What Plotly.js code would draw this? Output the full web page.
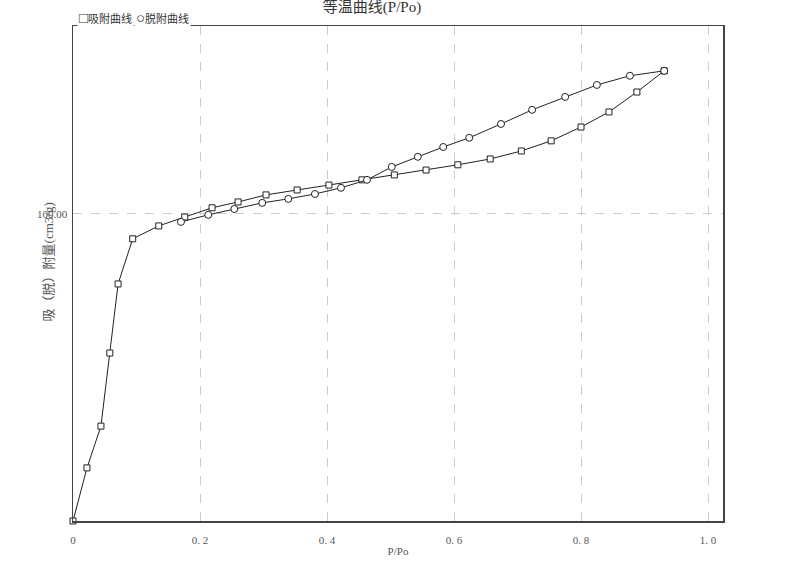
<!DOCTYPE html>
<html>
<head>
<meta charset="utf-8">
<script src="https://cdn.plot.ly/plotly-3.0.1.min.js"></script>
<style>
  body { margin: 0; background: #fff; }
  #chart { width: 800px; height: 575px; }
</style>
</head>
<body>
<div id="chart"></div>
<script>
// adsorption branch (squares)
var adsP = [0, 0.022, 0.044, 0.058, 0.071, 0.094, 0.135, 0.176, 0.219, 0.260, 0.304, 0.353,
            0.403, 0.455, 0.506, 0.556, 0.606, 0.657, 0.706, 0.753, 0.800, 0.844, 0.888, 0.931];
var adsQ = [0, 17.3, 30.9, 54.7, 77.2, 91.9, 96.1, 99.0, 102.0, 103.9, 106.2, 107.8,
            109.4, 111.1, 112.7, 114.3, 116.0, 117.9, 120.5, 123.8, 128.3, 133.2, 139.7, 146.6];

// desorption branch (circles)
var desP = [0.931, 0.877, 0.825, 0.775, 0.723, 0.674, 0.624, 0.583, 0.543, 0.502, 0.463,
            0.422, 0.381, 0.339, 0.298, 0.254, 0.213, 0.170];
var desQ = [146.6, 145.0, 142.0, 138.1, 133.9, 129.3, 124.8, 121.8, 118.6, 115.3, 111.1,
            108.5, 106.5, 104.9, 103.6, 101.6, 99.7, 97.4];

var xTicks = [0, 0.2, 0.4, 0.6, 0.8, 1.0];
var xTickText = ['0', '0. 2', '0. 4', '0. 6', '0. 8', '1. 0'];
var yTicks = [100];
var yTickText = ['100.00'];

var FONT = 'Liberation Serif, "Noto Sans CJK SC", serif';

var traces = [
  {
    x: adsP, y: adsQ, name: '吸附曲线', mode: 'lines+markers',
    line: {color: '#222', width: 1},
    marker: {symbol: 'square', size: 6, color: '#fff', line: {color: '#222', width: 1}},
    cliponaxis: false
  },
  {
    x: desP, y: desQ, name: '脱附曲线', mode: 'lines+markers',
    line: {color: '#222', width: 1},
    marker: {symbol: 'circle', size: 7, color: '#fff', line: {color: '#222', width: 1}},
    cliponaxis: false
  }
];

var layout = {
  width: 800, height: 575,
  margin: {l: 73, r: 77, t: 26, b: 54},
  paper_bgcolor: '#fff', plot_bgcolor: '#fff',
  showlegend: false,
  font: {family: FONT, size: 11, color: '#555'},
  title: {
    text: '等温曲线(P/Po)',
    font: {family: FONT, size: 15, color: '#333'},
    xref: 'container', x: 0.465, xanchor: 'center',
    yref: 'container', y: 0.998, yanchor: 'top'
  },
  xaxis: {
    range: [0, 1.0236],
    tickvals: xTicks, ticktext: xTickText,
    showgrid: true, gridcolor: '#ccc', griddash: 'dash', gridwidth: 1,
    zeroline: false, showline: true, linecolor: '#444', linewidth: 1.5, mirror: true,
    ticks: 'outside', ticklen: 8, tickcolor: 'rgba(0,0,0,0)',
    tickfont: {family: FONT, size: 11, color: '#555'},
    title: {text: 'P/Po', font: {family: FONT, size: 11, color: '#555'}, standoff: 2}
  },
  yaxis: {
    range: [0, 161.2],
    tickvals: yTicks, ticktext: yTickText,
    showgrid: true, gridcolor: '#ccc', griddash: 'dash', gridwidth: 1,
    zeroline: false, showline: true, linecolor: '#444', linewidth: 1.5, mirror: true,
    ticks: 'outside', ticklen: 2, tickcolor: 'rgba(0,0,0,0)',
    tickfont: {family: FONT, size: 11, color: '#555'}
  },
  annotations: [
    {
      text: '吸（脱）附量(cm3/g)', textangle: -90,
      xref: 'paper', yref: 'paper', x: -0.038, y: 0.523,
      xanchor: 'center', yanchor: 'middle', showarrow: false,
      font: {family: FONT, size: 13, color: '#555'}
    },
    {
      text: '<span style="font-size:15px">□</span>吸附曲线', xref: 'paper', yref: 'paper',
      x: 0.006, y: 1.016, xanchor: 'left', yanchor: 'middle', showarrow: false,
      bgcolor: '#fff', borderpad: 1,
      font: {family: FONT, size: 11, color: '#333'}
    },
    {
      text: '<span style="font-size:15px">○</span>脱附曲线', xref: 'paper', yref: 'paper',
      x: 0.094, y: 1.016, xanchor: 'left', yanchor: 'middle', showarrow: false,
      bgcolor: '#fff', borderpad: 1,
      font: {family: FONT, size: 11, color: '#333'}
    }
  ]
};

Plotly.newPlot('chart', traces, layout, {displayModeBar: false, staticPlot: true});
</script>
</body>
</html>
